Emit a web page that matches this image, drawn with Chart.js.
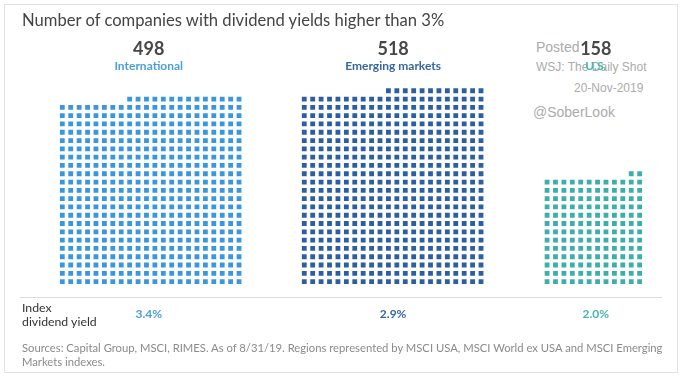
<!DOCTYPE html>
<html>
<head>
<meta charset="utf-8">
<script src="https://cdn.jsdelivr.net/npm/chart.js@4.4.0/dist/chart.umd.min.js"></script>
<style>
  html, body { margin: 0; padding: 0; background: #fff; }
  #wrap { position: relative; width: 688px; height: 379px; overflow: hidden; font-family: Lato, "Open Sans", sans-serif; }
  #frame { position: absolute; left: 4px; top: 4px; width: 674px; height: 369px; border: 1px solid #e2e2e2; box-sizing: border-box; }
  #c { position: absolute; left: 0; top: 0; }
  .t { position: absolute; white-space: nowrap; line-height: 1; }
  .ctr { transform: translateX(-50%); }
  #title { left: 22px; top: 12px; font-size: 16.6px; color: #444; }
  .num { font-size: 18px; color: #474747; top: 39px; font-weight: 700; background: #fff; padding: 0 1px; }
  .lab { font-size: 12px; font-weight: 700; top: 60px; }
  .yl { font-size: 12px; font-weight: 700; top: 308px; }
  #idx { left: 22px; top: 301px; font-size: 12.3px; color: #333; line-height: 14px; white-space: normal; width: 110px; }
  #src { left: 22px; top: 341px; font-size: 11.25px; color: #8a8a8a; line-height: 14px; white-space: normal; width: 655px; }
  #divider { position: absolute; left: 20px; top: 297px; width: 642px; height: 1px; background: #dcdcdc; }
  .wm { position: absolute; white-space: nowrap; line-height: 1; font-family: "Liberation Sans", Arial, sans-serif; color: #ababab; }
</style>
</head>
<body>
<div id="wrap">
  <div id="frame"></div>
  <div class="wm" style="left:536px;top:40px;font-size:14px;">Posted by</div>
  <div class="wm" style="left:536px;top:61px;font-size:12px;">WSJ: The Daily Shot</div>
  <div class="wm" style="left:574px;top:82px;font-size:12px;">20-Nov-2019</div>
  <div class="wm" style="left:533px;top:105px;font-size:14px;">@SoberLook</div>
  <canvas id="c" width="688" height="379"></canvas>
  <div id="title" class="t">Number of companies with dividend yields higher than 3%</div>
  <div id="labels"></div>
  <div id="divider"></div>
  <div id="idx" class="t">Index<br>dividend yield</div>
  <div id="src" class="t">Sources: Capital Group, MSCI, RIMES. As of 8/31/19. Regions represented by MSCI USA, MSCI World ex USA and MSCI Emerging Markets indexes.</div>
</div>
<script>
// ---- data ----
const categories = ['International', 'Emerging markets', 'U.S.'];
const companyCounts = [498, 518, 158];
const dividendYields = [3.4, 2.9, 2.0];
const yieldLabels = ['3.4%', '2.9%', '2.0%'];
const gridColumns = [22, 22, 12];

// ---- style ----
const squareColors = ['#3a97dd', '#2b5f9f', '#3cafab'];
const textColors = ['#4a9fdc', '#37679f', '#45b5b1'];
const groupOffsets = [0, 28.75, 57.6];   // column offset of each waffle block
const colStep = 8.5, rowStep = 8.45;
const firstColPx = 59.5, bottomRowPx = 283.3;
const W = 688, H = 379;

function waffle(count, cols, offset) {
  const pts = [];
  const full = Math.floor(count / cols);
  const rem = count % cols;
  for (let r = 0; r < full; r++)
    for (let c = 0; c < cols; c++) pts.push({ x: offset + c, y: r });
  for (let c = cols - rem; c < cols; c++) pts.push({ x: offset + c, y: full });
  return pts;
}

const datasets = categories.map((name, i) => ({
  label: name,
  data: waffle(companyCounts[i], gridColumns[i], groupOffsets[i]),
  pointStyle: 'rect',
  pointRadius: 3.4,
  pointHoverRadius: 3.4,
  pointBorderWidth: 0,
  backgroundColor: squareColors[i],
  borderColor: squareColors[i]
}));

const xMin = -firstColPx / colStep, xMax = xMin + W / colStep;
const yMax = bottomRowPx / rowStep, yMin = yMax - H / rowStep;

new Chart(document.getElementById('c'), {
  type: 'scatter',
  data: { datasets },
  options: {
    responsive: false,
    animation: false,
    events: [],
    layout: { padding: 0 },
    plugins: { legend: { display: false }, tooltip: { enabled: false } },
    scales: {
      x: { type: 'linear', display: false, min: xMin, max: xMax },
      y: { type: 'linear', display: false, min: yMin, max: yMax }
    }
  }
});

// labels centred over each block
const labels = document.getElementById('labels');
categories.forEach((name, i) => {
  const center = firstColPx + (groupOffsets[i] + (gridColumns[i] - 1) / 2) * colStep;
  const n = document.createElement('div');
  n.className = 't ctr num'; n.style.left = center + 'px'; n.textContent = companyCounts[i];
  const l = document.createElement('div');
  l.className = 't ctr lab'; l.style.left = center + 'px'; l.style.color = textColors[i]; l.textContent = name;
  const y = document.createElement('div');
  y.className = 't ctr yl'; y.style.left = center + 'px'; y.style.color = textColors[i]; y.textContent = yieldLabels[i];
  labels.appendChild(n); labels.appendChild(l); labels.appendChild(y);
});
</script>
</body>
</html>
